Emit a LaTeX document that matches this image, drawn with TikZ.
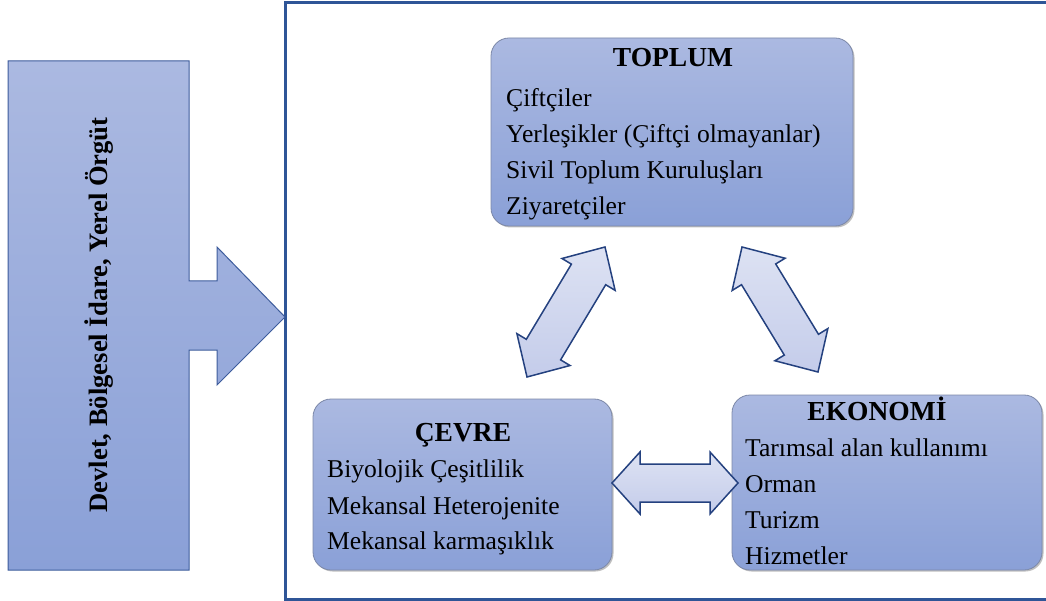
\documentclass[tikz,border=0pt]{standalone}
\usepackage{fontspec}
\setmainfont{Liberation Serif}
\usetikzlibrary{calc,shadows}
\definecolor{boxtop}{HTML}{ABB9E1}
\definecolor{boxbot}{HTML}{8AA0D7}
\definecolor{boxline}{HTML}{7C88A8}
\definecolor{framec}{HTML}{2F5597}
\definecolor{govline}{HTML}{3D5C9C}
\definecolor{arrtop}{HTML}{DDE2F3}
\definecolor{arrbot}{HTML}{C4CCEA}
\definecolor{arrline}{HTML}{24417F}
\tikzset{
  box/.style={draw=boxline, line width=0.8pt, rounded corners=18pt, top color=boxtop, bottom color=boxbot,
    drop shadow={shadow xshift=1.5pt, shadow yshift=-1.5pt, fill=black, opacity=0.25}},
  title/.style={font=\fontsize{27.5}{30}\selectfont\bfseries, inner sep=0pt, anchor=base},
  item/.style={font=\fontsize{25.6}{30}\selectfont, inner sep=0pt, anchor=base west},
  arrowshape/.style={draw=arrline, line width=1.5pt, line join=miter, top color=arrtop, bottom color=arrbot},
}
\newcommand\dblarr[5]{%
  \path[arrowshape] (#1) -- ($(#1)!#3!(#2)!#4!90:(#2)$) -- ($(#1)!#3!(#2)!#5!90:(#2)$)
    -- ($(#2)!#3!(#1)!#5!-90:(#1)$) -- ($(#2)!#3!(#1)!#4!-90:(#1)$) -- (#2)
    -- ($(#2)!#3!(#1)!#4!90:(#1)$) -- ($(#2)!#3!(#1)!#5!90:(#1)$)
    -- ($(#1)!#3!(#2)!#5!-90:(#2)$) -- ($(#1)!#3!(#2)!#4!-90:(#2)$) -- cycle;}
\begin{document}
\begin{tikzpicture}[x=1pt,y=-1pt]
\useasboundingbox (0,0) rectangle (1046,601);
% outer frame (right side lies beyond the picture edge)
\draw[framec, line width=3pt] (1060,3) -- (285,3) -- (285,599) -- (1060,599);
% left block arrow
\draw[govline, line width=1pt, top color=boxtop, bottom color=boxbot]
  (8,61) -- (189,61) -- (189,281) -- (217,281) -- (217,247) -- (285,317) -- (217,385)
  -- (217,350) -- (189,350) -- (189,570) -- (8,570) -- cycle;
\node[rotate=90, font=\fontsize{26.6}{30}\selectfont\bfseries, inner sep=0pt] (gov) at (99,315)
  {Devlet,\ Bölgesel İdare, Yerel Örgüt};
% boxes
\node[box, minimum width=362pt, minimum height=188pt] (toplum) at (672,132) {};
\node[box, minimum width=299pt, minimum height=171pt] (cevre) at (462.5,484.5) {};
\node[box, minimum width=310pt, minimum height=175pt] (ekonomi) at (887,482.5) {};
% TOPLUM texts
\node[title] (t0) at (673,67) {TOPLUM};
\node[item] (t1) at (506,107) {Çiftçiler};
\node[item] (t2) at (506,143) {Yerleşikler (Çiftçi olmayanlar)};
\node[item] (t3) at (506,179) {Sivil Toplum Kuruluşları};
\node[item] (t4) at (506,215) {Ziyaretçiler};
% CEVRE texts
\node[title] (c0) at (463,441) {ÇEVRE};
\node[item] (c1) at (327,477) {Biyolojik Çeşitlilik};
\node[item] (c2) at (327,514) {Mekansal Heterojenite};
\node[item] (c3) at (327,549) {Mekansal karmaşıklık};
% EKONOMI texts
\node[title] (e0) at (877,420) {EKONOMİ};
\node[item] (e1) at (745,456) {Tarımsal alan kullanımı};
\node[item] (e2) at (745,492) {Orman};
\node[item] (e3) at (745,528) {Turizm};
\node[item] (e4) at (745,564) {Hizmetler};
% double arrows
\coordinate (a1) at (527,377); \coordinate (a2) at (605,247);
\coordinate (b1) at (742,247); \coordinate (b2) at (818,372);
\coordinate (c1p) at (612,483); \coordinate (c2p) at (738,483);
\dblarr{a1}{a2}{32pt}{31pt}{20pt}
\dblarr{b1}{b2}{32pt}{31pt}{20pt}
\dblarr{c1p}{c2p}{28pt}{31pt}{19pt}
\end{tikzpicture}
\end{document}
